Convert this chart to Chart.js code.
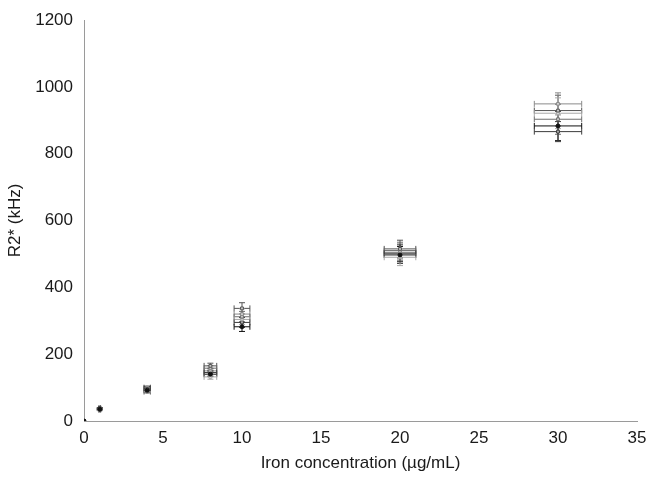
<!DOCTYPE html>
<html>
<head>
<meta charset="utf-8">
<script src="https://cdn.jsdelivr.net/npm/chart.js@4/dist/chart.umd.min.js"></script>
<style>
  html, body { margin: 0; padding: 0; background: #fff; }
  #wrap { width: 650px; height: 481px; }
</style>
</head>
<body>
<div id="wrap"><canvas id="c" width="650" height="481"></canvas></div>
<script>
// Iron concentration (µg/mL) and its uncertainty
const concentration = [0, 1, 4, 8, 10, 20, 30];
const concentrationErr = [0, 0.05, 0.2, 0.4, 0.5, 1.0, 1.5];

// R2* (kHz) per sample series
const sampleA = [0, 35, 92, 140, 282, 497, 883];
const sampleB = [0, 37, 96, 165, 337, 515, 929];
const sampleC = [0, 33, 100, 150, 320, 505, 949];
const sampleD = [0, 36, 88, 158, 312, 510, 903];
const sampleE = [0, 34, 94, 132, 304, 490, 921];
const sampleF = [0, 38, 98, 145, 295, 502, 866];

// R2* uncertainty per sample series
const errA = [0, 2, 5, 7, 14, 25, 44];
const errB = [0, 2, 5, 8, 17, 26, 46];
const errC = [0, 2, 5, 8, 16, 25, 33];
const errD = [0, 2, 4, 8, 16, 25, 45];
const errE = [0, 2, 5, 7, 15, 25, 46];
const errF = [0, 2, 5, 7, 15, 25, 30];

const yTicks = [0, 200, 400, 600, 800, 1000, 1200];

const series = [
  { values: sampleA, err: errA, color: '#111111', style: 'circle' },
  { values: sampleB, err: errB, color: '#555555', style: 'rect' },
  { values: sampleC, err: errC, color: '#8a8a8a', style: 'rect' },
  { values: sampleD, err: errD, color: '#6e6e6e', style: 'rect' },
  { values: sampleE, err: errE, color: '#a8a8a8', style: 'rect' },
  { values: sampleF, err: errF, color: '#3c3c3c', style: 'rect' }
];

const datasets = series.map(s => ({
  data: concentration.map((x, i) => ({ x: x, y: s.values[i] })),
  yErr: s.err,
  borderColor: s.color,
  backgroundColor: s.style === 'circle' ? s.color : 'rgba(255,255,255,0.6)',
  pointStyle: s.style,
  pointRadius: 2,
  pointBorderWidth: 1,
  showLine: false
}));

// draws x and y error bars with small caps, through the chart scales
const errorBars = {
  id: 'errorBars',
  beforeDatasetsDraw(chart) {
    const ctx = chart.ctx;
    const xs = chart.scales.x, ys = chart.scales.y;
    const cap = 3;
    chart.data.datasets.forEach(ds => {
      ctx.save();
      ctx.strokeStyle = ds.borderColor;
      ctx.lineWidth = 1;
      ds.data.forEach((p, i) => {
        const xe = concentrationErr[i];
        const ye = ds.yErr[i];
        const px = xs.getPixelForValue(p.x);
        const py = ys.getPixelForValue(p.y);
        ctx.beginPath();
        if (xe > 0) {
          const x1 = xs.getPixelForValue(p.x - xe);
          const x2 = xs.getPixelForValue(p.x + xe);
          ctx.moveTo(x1, py); ctx.lineTo(x2, py);
          ctx.moveTo(x1, py - cap); ctx.lineTo(x1, py + cap);
          ctx.moveTo(x2, py - cap); ctx.lineTo(x2, py + cap);
        }
        if (ye > 0) {
          const y1 = ys.getPixelForValue(p.y - ye);
          const y2 = ys.getPixelForValue(p.y + ye);
          ctx.moveTo(px, y1); ctx.lineTo(px, y2);
          ctx.moveTo(px - cap, y1); ctx.lineTo(px + cap, y1);
          ctx.moveTo(px - cap, y2); ctx.lineTo(px + cap, y2);
        }
        ctx.stroke();
      });
      ctx.restore();
    });
  }
};

const tickFont = { family: '"Liberation Sans", Arial, sans-serif', size: 17 };

new Chart(document.getElementById('c'), {
  type: 'scatter',
  data: { datasets: datasets },
  plugins: [errorBars],
  options: {
    responsive: false,
    animation: false,
    layout: { padding: { left: 0, right: 13, top: 20, bottom: 0 } },
    plugins: { legend: { display: false }, tooltip: { enabled: false } },
    scales: {
      x: {
        type: 'linear',
        min: 0, max: 35,
        grid: { display: false, drawTicks: false },
        border: { display: true, color: '#9a9a9a', width: 1 },
        ticks: { stepSize: 5, color: '#1a1a1a', font: tickFont, padding: 7, maxRotation: 0 },
        title: { display: true, text: 'Iron concentration (µg/mL)', color: '#1a1a1a', font: tickFont, padding: { top: 2, bottom: 7 } },
        afterFit(scale) { scale.height = 60; scale.paddingRight = 0; scale.paddingLeft = 0; }
      },
      y: {
        type: 'linear',
        min: 0, max: 1200,
        grid: { display: false, drawTicks: false },
        border: { display: true, color: '#9a9a9a', width: 1 },
        afterBuildTicks(scale) { scale.ticks = yTicks.map(v => ({ value: v })); },
        ticks: { color: '#1a1a1a', font: tickFont, padding: 11, callback: v => String(v) },
        title: { display: true, text: 'R2* (kHz)', color: '#1a1a1a', font: tickFont, padding: { top: 5, bottom: 0 } },
        afterFit(scale) { scale.width = 84; scale.paddingTop = 0; scale.paddingBottom = 0; }
      }
    }
  }
});
</script>
</body>
</html>
